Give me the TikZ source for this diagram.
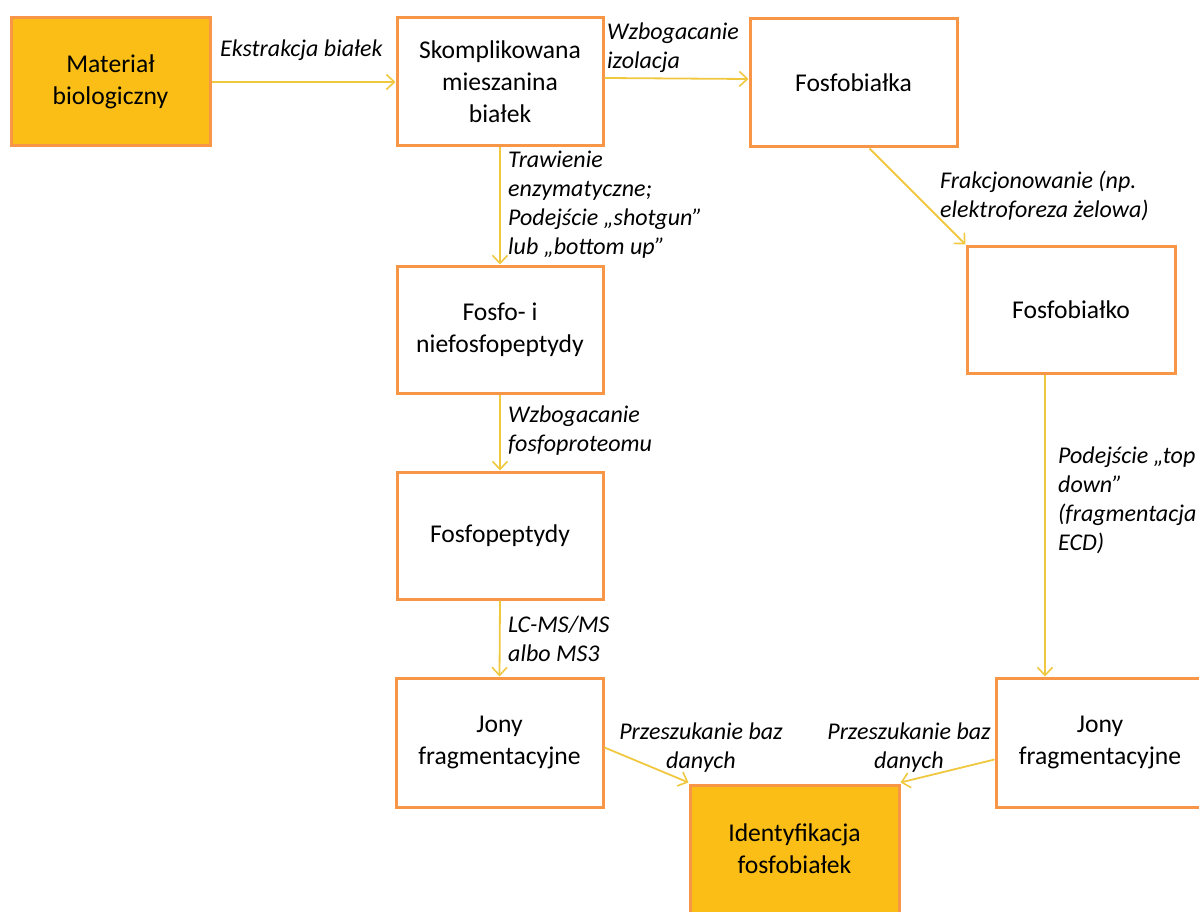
\documentclass[tikz,border=0pt]{standalone}
\usepackage{fontspec}
\setmainfont{Carlito}
\usetikzlibrary{arrows.meta}
\definecolor{boxfill}{RGB}{250,190,22}
\definecolor{boxdraw}{RGB}{247,150,70}
\definecolor{arrowc}{RGB}{240,200,64}
\tikzset{
  box/.style={draw=boxdraw, line width=3pt, fill=white, align=center, inner sep=0pt,
    font=\fontsize{25.6}{32}\selectfont},
  hibox/.style={box, fill=boxfill},
  conn/.style={draw=arrowc, line width=1.8pt, -{Straight Barb[length=8pt,width=15pt,line width=1.6pt]}},
  lab/.style={font=\fontsize{24}{29}\selectfont\itshape, inner sep=0pt, align=left, anchor=west},
  labc/.style={lab, align=center, anchor=center}
}
\begin{document}
\begin{tikzpicture}[x=1pt,y=-1pt]
\useasboundingbox (0,0) rectangle (1199,912);
\clip (0,0) rectangle (1199,912);

\node[hibox, minimum width=199pt, minimum height=128pt] (mat) at (110.5,82) {Materiał\\biologiczny};
\node[box, minimum width=206pt, minimum height=128pt] (skom) at (500,82) {Skomplikowana\\mieszanina\\białek};
\node[box, minimum width=207pt, minimum height=128pt] (fbka) at (853.5,83) {Fosfobiałka};
\node[box, minimum width=208pt, minimum height=127pt] (fbko) at (1071,309.5) {Fosfobiałko};
\node[box, minimum width=206pt, minimum height=127pt] (fnie) at (500,329.5) {Fosfo- i\\niefosfopeptydy};
\node[box, minimum width=206pt, minimum height=127pt] (fpep) at (500,535.5) {Fosfopeptydy};
\node[box, minimum width=207pt, minimum height=129pt] (jl) at (499.5,742.5) {Jony\\fragmentacyjne};
\node[box, minimum width=208pt, minimum height=129pt] (jr) at (1100,742.5) {Jony\\fragmentacyjne};
\node[hibox, minimum width=209pt, minimum height=128pt] (iden) at (794.5,849) {Identyfikacja\\fosfobiałek};

\coordinate (a7s) at ([xshift=-26pt]fbko.south);
\coordinate (a7e) at (a7s |- jr.north);

\draw[conn] (mat.east) -- (skom.west);
\draw[conn] ([yshift=4pt]skom.east) -- ([yshift=4pt]fbka.west);
\draw[conn] (skom.south) -- (fnie.north);
\draw[conn] ([xshift=16pt]fbka.south) -- (fbko.north west);
\draw[conn] (fnie.south) -- (fpep.north);
\draw[conn] (fpep.south) -- (jl.north);
\draw[conn] (a7s) -- (a7e);
\draw[conn] ([yshift=-5pt]jl.east) -- ([yshift=1pt]iden.north west);
\draw[conn] ([yshift=-17pt]jr.west) -- ([yshift=1pt]iden.north east);

\node[lab] (l1) at (220,50) {Ekstrakcja białek};
\node[lab] (l2) at (607,48) {Wzbogacanie\\izolacja};
\node[lab] (l3) at (508,205) {Trawienie\\enzymatyczne;\\Podejście „shotgun”\\lub „bottom up”};
\node[lab] (l4) at (940,196) {Frakcjonowanie (np.\\elektroforeza żelowa)};
\node[lab] (l5) at (508,431) {Wzbogacanie\\fosfoproteomu};
\node[lab] (l6) at (508,639) {LC-MS/MS\\albo MS3};
\node[lab] (l7) at (1058,500) {Podejście „top\\down”\\(fragmentacja\\ECD)};
\node[labc] (l8) at (701,748) {Przeszukanie baz\\danych};
\node[labc] (l9) at (909,748) {Przeszukanie baz\\danych};
\end{tikzpicture}
\end{document}
